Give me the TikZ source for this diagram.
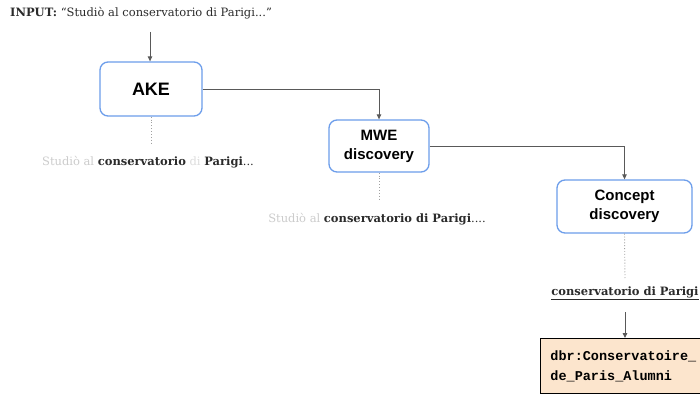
\documentclass[tikz,border=0pt]{standalone}
\usepackage{fontspec}
\setmainfont{DejaVu Serif}
\setsansfont{Liberation Sans}
\setmonofont{Liberation Mono}
\usetikzlibrary{arrows.meta}
\definecolor{boxblue}{HTML}{6D9EEB}
\definecolor{peach}{HTML}{FCE5CD}
\definecolor{linegray}{HTML}{595959}
\definecolor{dotgray}{HTML}{A0A0A0}
\definecolor{faint}{HTML}{CCCCCC}
\definecolor{fainter}{HTML}{DDDDDD}
\definecolor{txt}{HTML}{2B2B2B}
\begin{document}
\begin{tikzpicture}[x=1pt,y=-1pt,
  stepbox/.style={draw=boxblue, line width=1.3pt, rounded corners=8pt, fill=white,
    font=\sffamily\bfseries\fontsize{15}{19}\selectfont, align=center, inner sep=0pt},
  conn/.style={draw=linegray, line width=0.9pt, -{Triangle[length=5pt,width=4.5pt]}},
  dotline/.style={draw=dotgray, line width=0.9pt, dotted},
  lbl/.style={font=\fontsize{11.5}{14}\selectfont, text=txt, inner sep=0pt},
  dbrbox/.style={draw=black, line width=0.9pt, fill=peach, anchor=north west,
    minimum width=180pt, minimum height=55pt, text width=160pt, inner xsep=9pt,
    align=left, font=\ttfamily\bfseries\fontsize{13.5}{20}\selectfont}
]
\useasboundingbox (0,0) rectangle (700,395);
\clip (0,0) rectangle (700,395);
\fill[white] (0,0) rectangle (700,395);

\node[lbl, anchor=west] (input) at (10,13) {\textbf{INPUT:} “Studiò al conservatorio di Parigi...”};

\node[stepbox, minimum width=102pt, minimum height=54pt, font=\sffamily\bfseries\fontsize{18}{20}\selectfont] (ake) at (151,89) {AKE};
\node[stepbox, minimum width=100pt, minimum height=52pt] (mwe) at (379,146) {MWE\\discovery};
\node[stepbox, minimum width=135pt, minimum height=53pt] (concept) at (624.5,206.5) {Concept\\discovery};

\node[lbl] (l1) at (148,162) {\textcolor{faint}{Studiò al} \textbf{conservatorio} \textcolor{fainter}{di} \textbf{Parigi}...};
\node[lbl] (l2) at (377,219) {\textcolor{faint}{Studiò al} \textbf{conservatorio di Parigi}....};
\node[lbl] (l3) at (625,293) {\underline{\textbf{conservatorio di Parigi}}};

\node[dbrbox] (dbr) at (540,338) {dbr:Conservatoire\_\\de\_Paris\_Alumni};

\coordinate (instart) at (150,32);
\coordinate (d1) at (151,143);
\coordinate (d2) at (379,200);
\coordinate (d3) at (625,278);
\coordinate (a3) at (625,312);

\draw[conn] (instart) -- (instart |- ake.north);
\draw[conn] (ake.east) -| (mwe.north);
\draw[conn] (mwe.east) -| (concept.north);
\draw[dotline] (ake.south) -- (d1);
\draw[dotline] (mwe.south) -- (d2);
\draw[dotline] (concept.south) -- (d3);
\draw[conn] (a3) -- (a3 |- dbr.north);
\end{tikzpicture}
\end{document}
